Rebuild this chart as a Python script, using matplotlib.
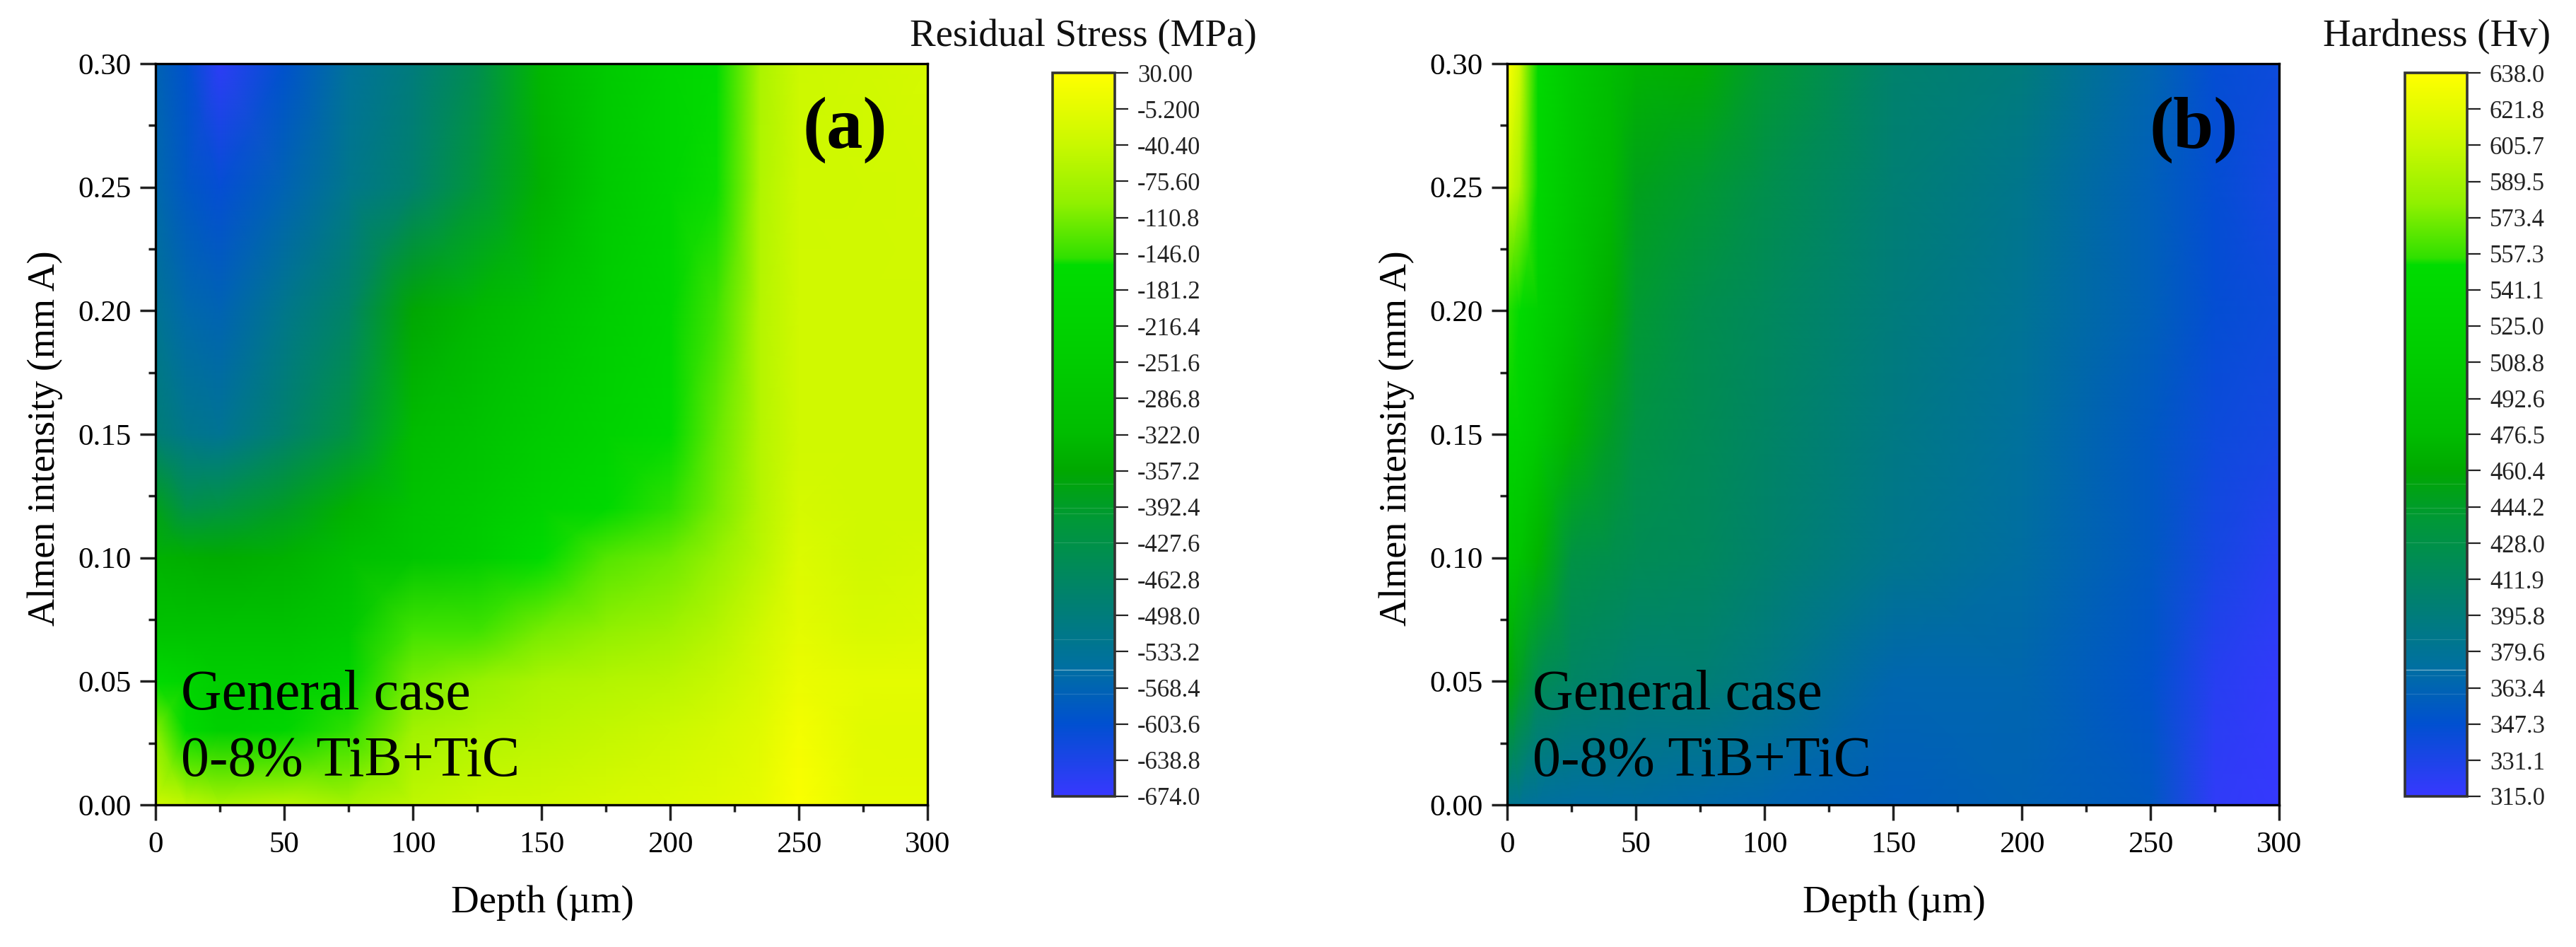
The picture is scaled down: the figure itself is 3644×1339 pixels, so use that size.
#!/usr/bin/env python3
import matplotlib

matplotlib.use("Agg", force=True)
import matplotlib.pyplot as plt
import numpy as np
from matplotlib.colors import LinearSegmentedColormap

W, H = 3644, 1339
plt.rcParams["font.family"] = ["Liberation Serif", "DejaVu Serif"]

# panel (a)
stress_depth = [0, 12, 25, 50, 75, 100, 125, 150, 175, 200, 218, 235, 250, 275, 300]
stress_almen = [0.0, 0.03, 0.05, 0.07, 0.10, 0.12, 0.15, 0.20, 0.25, 0.30]
stress = [
    [-30, -50, -70, -55, -75, -50, -35, -30, -22, -15, -8, 0, 25, -5, -5],
    [-100, -170, -230, -200, -150, -80, -65, -55, -45, -35, -25, -10, 15, -8, -10],
    [-170, -200, -240, -240, -200, -110, -90, -70, -62, -55, -42, -20, 5, -5, -5],
    [-290, -290, -290, -290, -260, -140, -140, -110, -95, -80, -60, -30, -5, -20, -15],
    [-340, -345, -350, -340, -310, -280, -240, -160, -130, -115, -90, -55, -15, -30, -25],
    [-380, -430, -420, -390, -340, -290, -260, -210, -175, -150, -110, -60, -25, -30, -30],
    [-490, -520, -530, -480, -420, -320, -290, -250, -210, -170, -120, -60, -30, -30, -30],
    [-530, -560, -570, -520, -470, -360, -330, -290, -240, -190, -140, -60, -30, -30, -30],
    [-560, -590, -610, -570, -520, -480, -410, -340, -260, -200, -155, -65, -32, -30, -28],
    [-570, -600, -660, -600, -540, -500, -440, -330, -260, -200, -165, -70, -35, -30, -25],
]
stress_ticks = [30.0, -5.2, -40.4, -75.6, -110.8, -146.0, -181.2, -216.4, -251.6, -286.8, -322.0,
                -357.2, -392.4, -427.6, -462.8, -498.0, -533.2, -568.4, -603.6, -638.8, -674.0]
stress_labels = ["30.00", "-5.200", "-40.40", "-75.60", "-110.8", "-146.0", "-181.2", "-216.4",
                 "-251.6", "-286.8", "-322.0", "-357.2", "-392.4", "-427.6", "-462.8", "-498.0",
                 "-533.2", "-568.4", "-603.6", "-638.8", "-674.0"]
stress_stripes = [-370, -393, -399, -427, -521, -556, -574]
stress_bright = -551

# panel (b)
hard_depth = [0, 5, 12, 25, 40, 50, 75, 100, 150, 200, 250, 275, 300]
hard_almen = [0.0, 0.05, 0.10, 0.15, 0.20, 0.25, 0.30]
hardness = [
    [385, 380, 375, 372, 372, 372, 368, 365, 358, 362, 355, 320, 316],
    [460, 445, 420, 410, 405, 400, 400, 390, 365, 365, 350, 325, 318],
    [500, 490, 470, 430, 425, 420, 415, 405, 385, 372, 355, 335, 325],
    [530, 525, 505, 470, 445, 430, 420, 410, 390, 375, 355, 340, 335],
    [555, 548, 525, 490, 465, 440, 425, 415, 395, 380, 360, 345, 340],
    [610, 590, 540, 500, 475, 450, 440, 425, 400, 385, 360, 345, 335],
    [638, 610, 545, 505, 480, 470, 465, 440, 405, 395, 365, 345, 340],
]
hard_ticks = [638.0, 621.8, 605.7, 589.5, 573.4, 557.3, 541.1, 525.0, 508.8, 492.6, 476.5,
              460.4, 444.2, 428.0, 411.9, 395.8, 379.6, 363.4, 347.3, 331.1, 315.0]
hard_labels = ["638.0", "621.8", "605.7", "589.5", "573.4", "557.3", "541.1", "525.0", "508.8",
               "492.6", "476.5", "460.4", "444.2", "428.0", "411.9", "395.8", "379.6", "363.4",
               "347.3", "331.1", "315.0"]
hard_stripes = [454.6, 443.9, 441.3, 428.4, 385.0, 368.9, 360.9]
hard_bright = 371.6

CMAP = LinearSegmentedColormap.from_list(
    "origin_bgy",
    [
        (0.00, "#3838ff"),
        (0.10, "#0050d0"),
        (0.18, "#0070a0"),
        (0.27, "#008070"),
        (0.38, "#009838"),
        (0.45, "#00a800"),
        (0.50, "#00bc00"),
        (0.60, "#00cc00"),
        (0.735, "#00dc00"),
        (0.745, "#30e000"),
        (0.82, "#90f000"),
        (0.90, "#c8f800"),
        (1.00, "#ffff00"),
    ],
    N=1024,
)


def px_axes(fig, left, top, right, bottom):
    return fig.add_axes([left / W, 1 - bottom / H, (right - left) / W, (bottom - top) / H])


def px_text(fig, x, y, s, **kw):
    fig.text(x / W, 1 - y / H, s, **kw)


def panel(fig, x0, depth, almen, values, vmin, vmax, tag, tag_x, cbar_x0, ticks, labels, title,
          title_x, stripes, bright):
    ax = px_axes(fig, x0, 90, x0 + 1092, 1138)
    mesh = ax.pcolormesh(depth, almen, np.array(values), cmap=CMAP, vmin=vmin, vmax=vmax,
                         shading="gouraud", rasterized=True)
    ax.set_xlim(0, 300)
    ax.set_ylim(0, 0.30)
    ax.set_xticks(np.arange(0, 301, 50))
    ax.set_xticks(np.arange(0, 301, 25), minor=True)
    ax.set_yticks(np.arange(0, 0.301, 0.05))
    ax.set_yticks(np.arange(0, 0.301, 0.025), minor=True)
    ax.set_yticklabels([f"{v:.2f}" for v in np.arange(0, 0.301, 0.05)])
    ax.tick_params(axis="both", which="major", width=2.5, length=16, labelsize=31, color="#222222")
    ax.tick_params(axis="x", which="major", pad=11)
    ax.tick_params(axis="y", which="major", pad=9)
    ax.tick_params(axis="both", which="minor", width=2.5, length=7, color="#222222")
    for sp in ax.spines.values():
        sp.set_linewidth(2.4)

    px_text(fig, x0 + 547, 1277, "Depth (\u00b5m)", fontsize=39.5, ha="center", va="center")
    px_text(fig, x0 - 156, 620, "Almen intensity (mm A)", fontsize=39, ha="center", va="center",
            rotation=90)
    px_text(fig, x0 + 36, 1003, "General case", fontsize=57.5, ha="left", va="baseline")
    px_text(fig, x0 + 36, 1097, "0-8% TiB+TiC", fontsize=57.5, ha="left", va="baseline")
    px_text(fig, tag_x, 184, tag, fontsize=74, fontweight="bold", ha="center", va="center")

    cax = px_axes(fig, cbar_x0, 103, cbar_x0 + 88, 1126)
    cb = fig.colorbar(mesh, cax=cax)
    cb.set_ticks(ticks)
    cb.set_ticklabels(labels)
    cb.minorticks_off()
    for v in stripes:
        cax.axhline(v, color="white", lw=0.8, alpha=0.15)
    cax.axhline(bright, color="white", lw=0.9, alpha=0.5)
    cax.tick_params(axis="y", which="major", length=14, width=1.6, labelsize=25, pad=9,
                    color="#222222", labelcolor="#222222")
    cb.outline.set_linewidth(2.6)
    cb.outline.set_edgecolor("#333333")
    px_text(fig, title_x, 65, title, fontsize=39.5, ha="left", va="baseline", color="#111111")


def main():
    fig = plt.figure(figsize=(W / 100, H / 100), dpi=100, facecolor="white")
    panel(fig, 220, stress_depth, stress_almen, stress, -674.0, 30.0, "(a)", 1195, 1489,
          stress_ticks, stress_labels, "Residual Stress (MPa)", 1287, stress_stripes, stress_bright)
    panel(fig, 2132, hard_depth, hard_almen, hardness, 315.0, 638.0, "(b)", 3103, 3402,
          hard_ticks, hard_labels, "Hardness (Hv)", 3286, hard_stripes, hard_bright)
    fig.savefig("out.png", dpi=100)
    plt.close(fig)


if __name__ == "__main__":
    main()
